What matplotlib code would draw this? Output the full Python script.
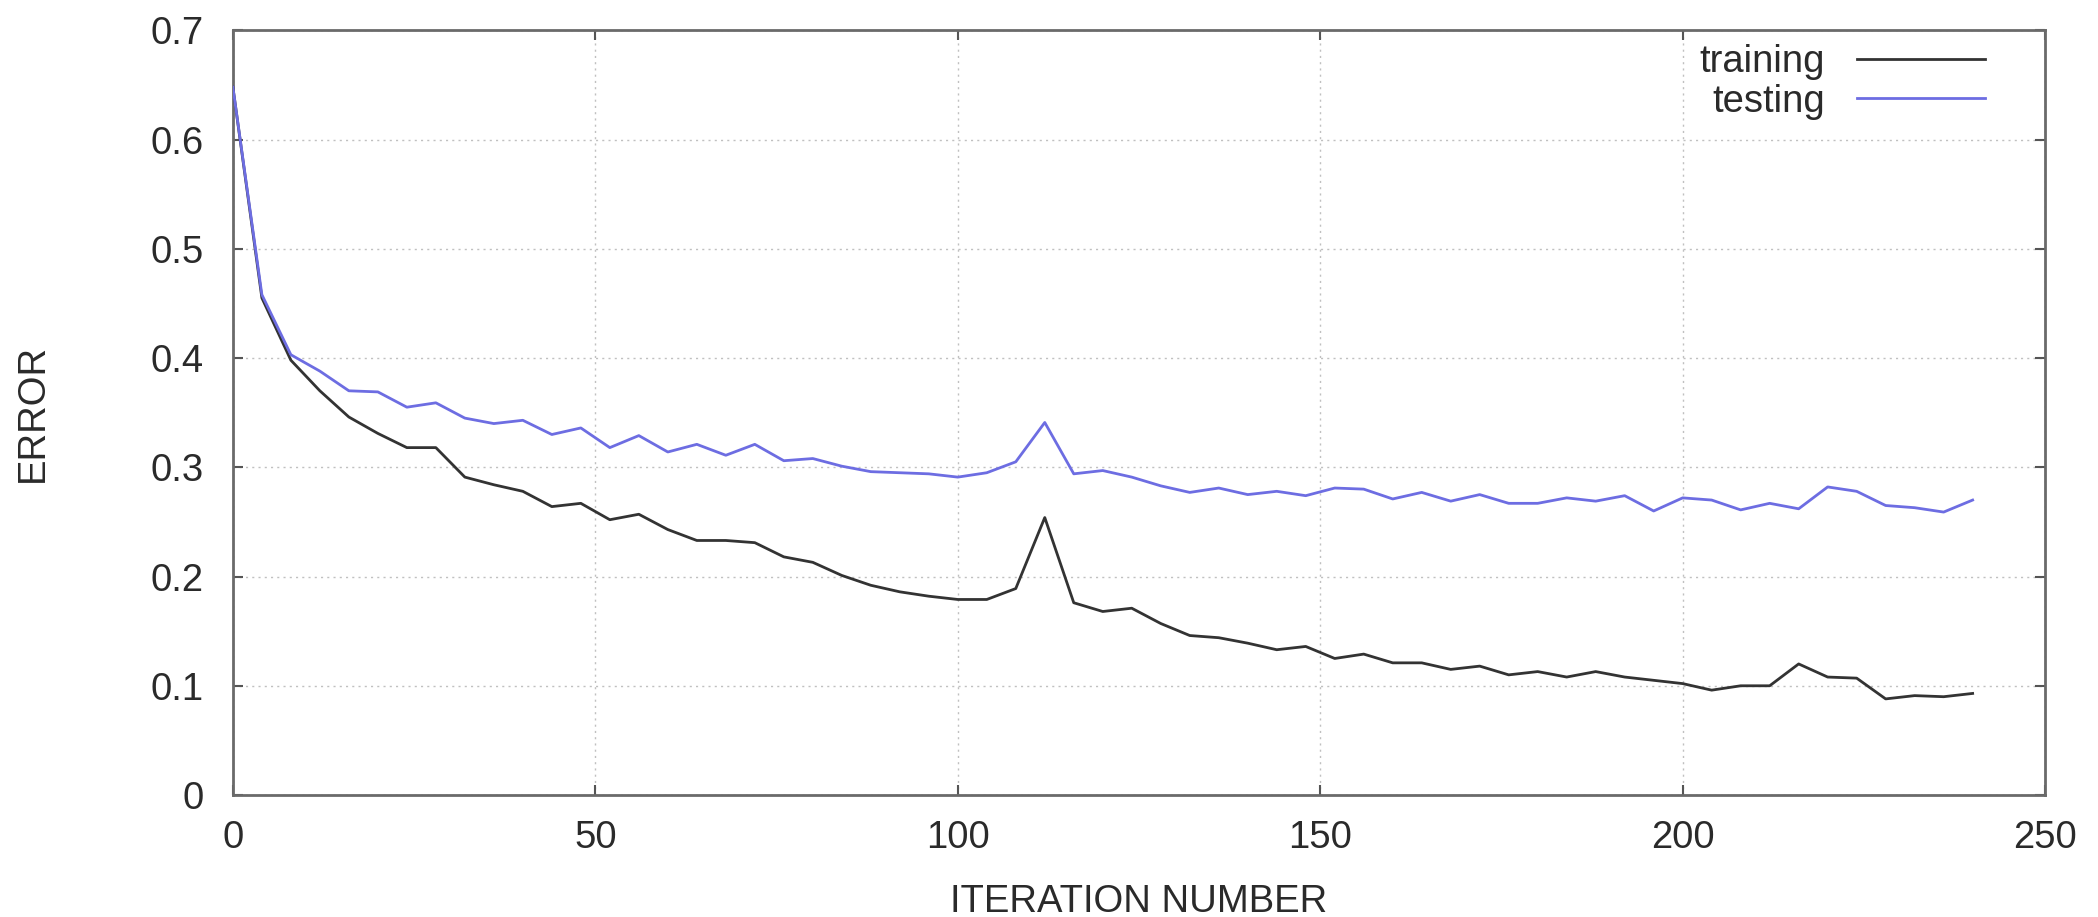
import matplotlib
matplotlib.use("Agg")
import matplotlib.pyplot as plt
import numpy as np

iterations = list(range(0, 241, 4))
training = [0.648, 0.455, 0.398, 0.370, 0.346, 0.331, 0.318, 0.318, 0.291, 0.284,
            0.278, 0.264, 0.267, 0.252, 0.257, 0.243, 0.233, 0.233, 0.231, 0.218,
            0.213, 0.201, 0.192, 0.186, 0.182, 0.179, 0.179, 0.189, 0.254, 0.176,
            0.168, 0.171, 0.157, 0.146, 0.144, 0.139, 0.133, 0.136, 0.125, 0.129,
            0.121, 0.121, 0.115, 0.118, 0.110, 0.113, 0.108, 0.113, 0.108, 0.105,
            0.102, 0.096, 0.100, 0.100, 0.120, 0.108, 0.107, 0.088, 0.091, 0.090,
            0.093]
testing = [0.648, 0.458, 0.403, 0.388, 0.370, 0.369, 0.355, 0.359, 0.345, 0.340,
           0.343, 0.330, 0.336, 0.318, 0.329, 0.314, 0.321, 0.311, 0.321, 0.306,
           0.308, 0.301, 0.296, 0.295, 0.294, 0.291, 0.295, 0.305, 0.341, 0.294,
           0.297, 0.291, 0.283, 0.277, 0.281, 0.275, 0.278, 0.274, 0.281, 0.280,
           0.271, 0.277, 0.269, 0.275, 0.267, 0.267, 0.272, 0.269, 0.274, 0.260,
           0.272, 0.270, 0.261, 0.267, 0.262, 0.282, 0.278, 0.265, 0.263, 0.259,
           0.270]
xticks = [0, 50, 100, 150, 200, 250]
yticks = [0, 0.1, 0.2, 0.3, 0.4, 0.5, 0.6, 0.7]
ytick_labels = ["0", "0.1", "0.2", "0.3", "0.4", "0.5", "0.6", "0.7"]

plt.rcParams['font.family'] = ['Liberation Sans', 'DejaVu Sans']
FS = 27.5

fig = plt.figure(figsize=(20.98, 9.17), dpi=100)
ax = fig.add_axes([0.111, 0.133, 0.8638, 0.834])

ax.plot(iterations, training, color='#333333', lw=2.0, label='training', zorder=3)
ax.plot(iterations, testing, color='#6d6de2', lw=2.0, label='testing', zorder=3)

ax.set_xlim(0, 250)
ax.set_ylim(0, 0.7)
ax.set_xticks(xticks)
ax.set_xticklabels([str(v) for v in xticks])
ax.set_yticks(yticks)
ax.set_yticklabels(ytick_labels)

ax.grid(True, color='#c0c0c0', linestyle=(0, (1.5, 3)), linewidth=1.0)
ax.set_axisbelow(True)

for s in ax.spines.values():
    s.set_color('#6a6a6a')
    s.set_linewidth(2.0)

ax.tick_params(axis='both', which='both', direction='in', length=7, width=1.5,
               color='#555555', top=True, right=True, labelsize=FS,
               labelcolor='#2a2a2a')
ax.tick_params(axis='y', pad=21)
ax.tick_params(axis='x', pad=18)

ax.set_xlabel('ITERATION NUMBER', fontsize=FS, color='#2a2a2a', labelpad=20)
ax.set_ylabel('ERROR', fontsize=FS, color='#2a2a2a', labelpad=72)

leg = ax.legend(loc='upper right', bbox_to_anchor=(0.967, 0.982), frameon=False,
                markerfirst=False, fontsize=FS, handlelength=3.35,
                handletextpad=0.85, labelspacing=0.1, borderpad=0,
                borderaxespad=0)
for t in leg.get_texts():
    t.set_color('#2a2a2a')

fig.savefig('out.png', dpi=100, facecolor='white')
